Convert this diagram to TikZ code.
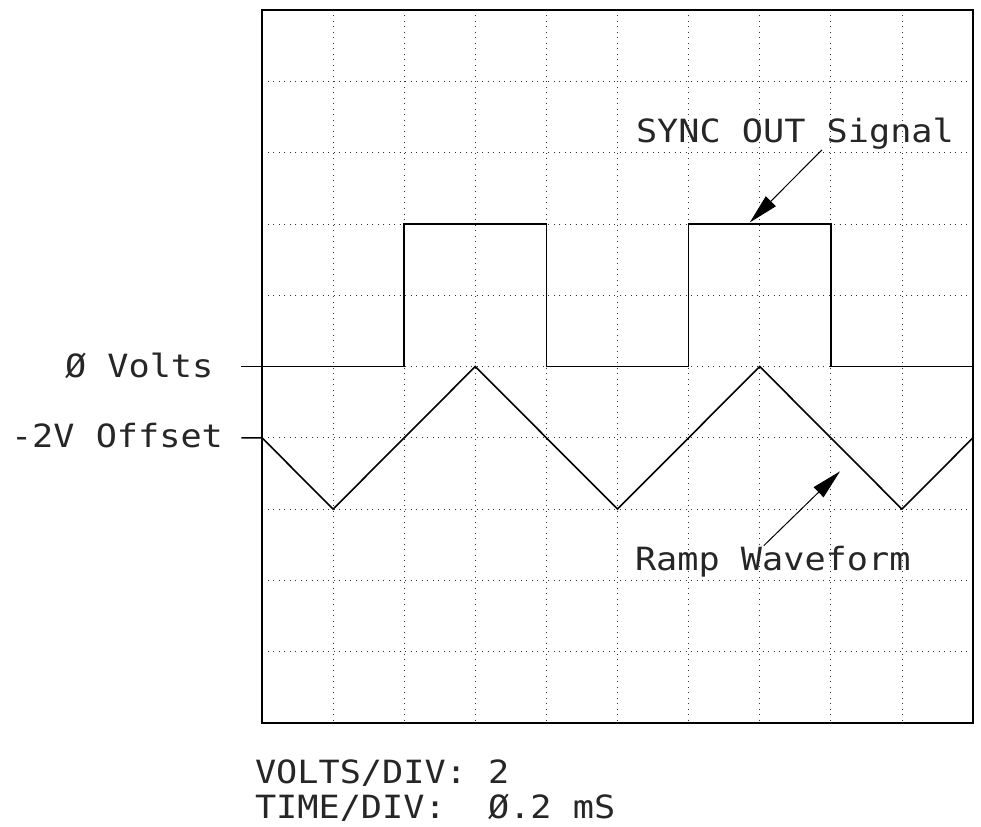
\documentclass[tikz,border=0pt]{standalone}
\usepackage{fontspec}
\usetikzlibrary{arrows.meta}
\newfontfamily\plotfont[FakeStretch=1.1]{DejaVu Sans Mono}
\tikzset{
  gridline/.style={black!80, line width=0.8pt, dash pattern=on 1pt off 4.5pt},
  frame/.style={black, line width=1.4pt},
  wave/.style={black, line width=1.6pt, line join=miter},
  lbl/.style={inner sep=0pt, outer sep=0pt, anchor=base west, text=black!85, font=\plotfont\fontsize{32}{38}\selectfont},
  pointer/.style={black, line width=1pt, -{Triangle[length=30pt,width=14pt]}}
}
\begin{document}
\begin{tikzpicture}[x=1pt,y=-1pt]
\useasboundingbox (0,0) rectangle (981,826);
\begin{scope}[xshift=262pt,yshift=-10pt,x=71.1pt,y=-71.3pt]
  \foreach \i in {1,...,9} {
    \draw[gridline] (\i,0) -- (\i,10);
    \draw[gridline] (0,\i) -- (10,\i);
  }
  \draw[frame] (0,0) rectangle (10,10);
  % SYNC OUT square wave
  \draw[wave] (-0.29,5) -- (2,5) -- (2,3) -- (4,3) -- (4,5) -- (6,5) -- (6,3) -- (8,3) -- (8,5) -- (10,5);
  % Ramp waveform
  \draw[wave] (-0.29,6) -- (0,6) -- (1,7) -- (3,5) -- (5,7) -- (7,5) -- (9,7) -- (10,6);
  \coordinate (synctip) at (6.86,2.98);
  \coordinate (ramptip) at (8.13,6.47);
\end{scope}
\node[lbl] (zerov) at (65,377) {Ø Volts};
\node[lbl] (offs) at (11,447) {-2V Offset};
\node[lbl] (sync) at (636,143) {SYNC OUT Signal};
\node[lbl] (ramp) at (635,570) {Ramp Waveform};
\node[lbl] (vdiv) at (255,783) {VOLTS/DIV:\ 2};
\node[lbl] (tdiv) at (255,818) {TIME/DIV:\ \ Ø.2 mS};
\draw[pointer] ([xshift=27pt]sync.south) -- (synctip);
\draw[pointer] ([xshift=-9pt]ramp.north) -- (ramptip);
\end{tikzpicture}
\end{document}
